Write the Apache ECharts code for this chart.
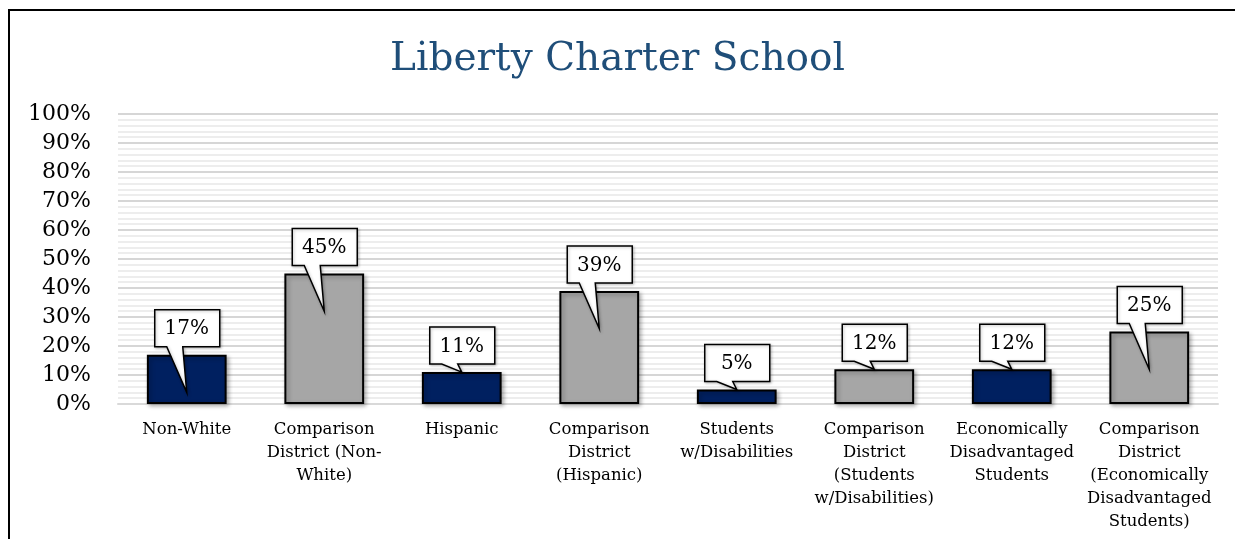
<!DOCTYPE html>
<html>
<head>
<meta charset="utf-8">
<script src="https://cdn.jsdelivr.net/npm/echarts@6/dist/echarts.min.js"></script>
<style>
  html, body { margin: 0; padding: 0; background: #fff; }
  #chart { width: 1235px; height: 539px; }
</style>
</head>
<body>
<div id="chart"></div>
<script>
const titleText = 'Liberty Charter School';
const categories = [
  'Non-White',
  'Comparison\nDistrict (Non-\nWhite)',
  'Hispanic',
  'Comparison\nDistrict\n(Hispanic)',
  'Students\nw/Disabilities',
  'Comparison\nDistrict\n(Students\nw/Disabilities)',
  'Economically\nDisadvantaged\nStudents',
  'Comparison\nDistrict\n(Economically\nDisadvantaged\nStudents)'
];
const values = [17, 45, 11, 39, 5, 12, 12, 25];
const isComparison = [false, true, false, true, false, true, false, true];

const navy = '#002060';
const gray = '#a6a6a6';
const serif = '"DejaVu Serif", "Liberation Serif", serif';

const chart = echarts.init(document.getElementById('chart'));

// callout box with a tail pointing down onto the bar
const renderCallout = (params, api) => {
  const idx = api.value(0);
  const val = api.value(1);
  const top = api.coord([idx, val]);
  const cx = top[0];
  const tipVal = val > 15 ? val - 13 : val;
  const tipY = api.coord([idx, tipVal])[1];
  const B = top[1] - 8;
  const T = B - 37;
  const L = cx - 32;
  const R = cx + 33;
  return {
    type: 'group',
    children: [
      {
        type: 'polygon',
        shape: {
          points: [[L, T], [R, T], [R, B], [cx - 4, B], [cx, tipY], [cx - 20, B], [L, B]]
        },
        style: {
          fill: '#fff',
          stroke: '#000',
          lineWidth: 1.5,
          shadowBlur: 3,
          shadowOffsetX: 1,
          shadowOffsetY: 1,
          shadowColor: 'rgba(0,0,0,0.25)'
        }
      },
      {
        type: 'text',
        style: {
          x: cx,
          y: (T + B) / 2 + 1,
          text: val + '%',
          align: 'center',
          verticalAlign: 'middle',
          font: '20px ' + serif,
          fill: '#000'
        }
      }
    ]
  };
};

const option = {
  animation: false,
  backgroundColor: '#fff',
  title: {
    text: titleText,
    left: 'center',
    top: 35,
    textStyle: {
      fontFamily: serif,
      fontSize: 39,
      fontWeight: 'normal',
      color: '#1f4e79'
    }
  },
  graphic: [
    {
      type: 'rect',
      shape: { x: 9, y: 10, width: 1240, height: 545 },
      style: { fill: 'none', stroke: '#000', lineWidth: 2 },
      silent: true
    }
  ],
  grid: {
    left: 118,
    right: 17,
    top: 114,
    bottom: 135
  },
  xAxis: {
    type: 'category',
    data: categories,
    axisLine: { lineStyle: { color: '#d9d9d9', width: 2 } },
    axisTick: { show: false },
    axisLabel: {
      interval: 0,
      margin: 14,
      fontFamily: serif,
      fontSize: 16.5,
      lineHeight: 23,
      color: '#000',
      align: 'center'
    }
  },
  yAxis: {
    type: 'value',
    min: 0,
    max: 100,
    interval: 10,
    axisLine: { show: false },
    axisTick: { show: false },
    axisLabel: {
      formatter: '{value}%',
      margin: 27,
      padding: [6, 0, 0, 0],
      fontFamily: serif,
      fontSize: 22,
      color: '#000'
    },
    splitLine: { lineStyle: { color: '#d6d6d6', width: 2 } },
    minorTick: { show: false, splitNumber: 5 },
    minorSplitLine: { show: true, lineStyle: { color: '#ededed', width: 2 } }
  },
  series: [
    {
      type: 'bar',
      barWidth: '58%',
      data: values.map((v, i) => ({
        value: v,
        itemStyle: { color: isComparison[i] ? gray : navy }
      })),
      itemStyle: {
        borderColor: '#000',
        borderWidth: 2,
        shadowBlur: 4,
        shadowOffsetX: 2,
        shadowOffsetY: 2,
        shadowColor: 'rgba(0,0,0,0.3)'
      },
      z: 2
    },
    {
      type: 'custom',
      renderItem: renderCallout,
      data: values.map((v, i) => [i, v]),
      z: 5
    }
  ]
};

chart.setOption(option);
</script>
</body>
</html>
